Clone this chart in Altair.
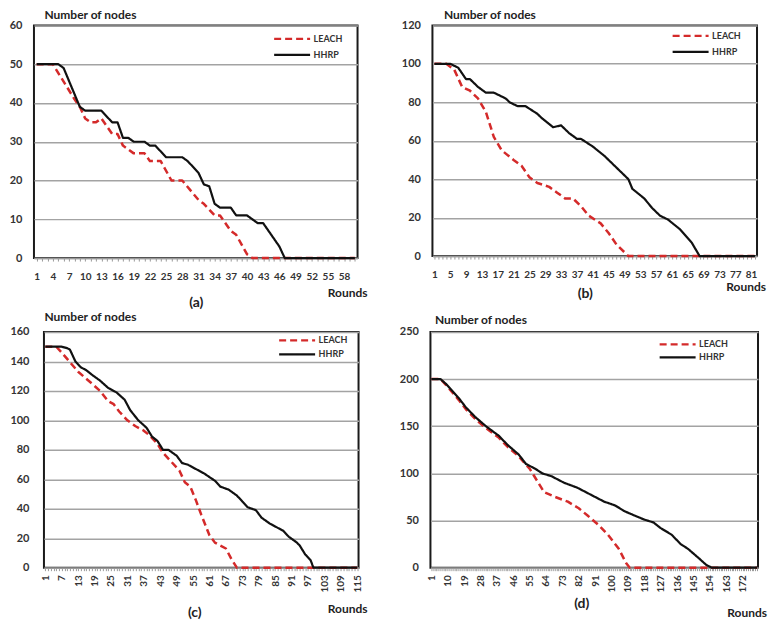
import altair as alt
import pandas as pd

FONT = "Lato"
SERIES = ["LEACH", "HHRP"]
COLORS = ["#d42a2a", "#111111"]
DASHES = [[7, 4], [1, 0]]
WIDTHS = {"LEACH": 2.5, "HHRP": 2.2}

# ---- Panel (a): 50 nodes ----
A_LEACH_R = [1, 4, 8, 9, 10, 11, 12, 13, 15, 16, 17, 18, 19, 21, 22, 24, 26, 28, 31, 32, 34, 35, 37, 38, 40, 41, 60]
A_LEACH_N = [50, 50, 41, 39, 36, 35, 35, 36, 32, 32, 29, 28, 27, 27, 25, 25, 20, 20, 15, 14, 11, 11, 7, 6, 1, 0, 0]
A_HHRP_R = [1, 5, 6, 9, 10, 13, 15, 16, 17, 18, 19, 21, 22, 23, 25, 28, 29, 31, 32, 33, 34, 35, 37, 38, 40, 42, 43, 46, 47, 60]
A_HHRP_N = [50, 50, 49, 39, 38, 38, 35, 35, 31, 31, 30, 30, 29, 29, 26, 26, 25, 22, 19, 18.5, 14, 13, 13, 11, 11, 9, 9, 3, 0, 0]
A_YTICKS = [0, 10, 20, 30, 40, 50, 60]
A_XLABELS = list(range(1, 59, 3))

# ---- Panel (b): 100 nodes ----
B_LEACH_R = [1, 4, 6, 8, 9, 10, 12, 14, 16, 18, 21, 23, 25, 27, 30, 32, 34, 36, 38, 40, 43, 45, 47, 50, 82]
B_LEACH_N = [100, 100, 97, 88, 87, 86, 82, 75, 62, 55, 50, 47, 41, 38, 36, 33, 30, 30, 26, 21, 17, 12, 6, 0, 0]
B_HHRP_R = [1, 5, 7, 9, 10, 12, 14, 16, 19, 20, 22, 24, 27, 28, 31, 33, 35, 37, 38, 41, 44, 47, 48, 50, 51, 54, 56, 58, 60, 63, 66, 68, 82]
B_HHRP_N = [100, 100, 98, 92, 92, 88, 85, 85, 82, 80, 78, 78, 74, 72, 67, 68, 64, 61, 61, 57, 52, 46, 44, 40, 35, 30, 25, 21, 19, 14, 7, 0, 0]
B_YTICKS = [0, 20, 40, 60, 80, 100, 120]
B_XLABELS = list(range(1, 82, 4))

# ---- Panel (c): 150 nodes ----
C_LEACH_R = [1, 5, 7, 13, 18, 21, 24, 26, 28, 31, 34, 37, 39, 42, 44, 47, 50, 52, 54, 56, 58, 61, 63, 67, 69, 71, 115]
C_LEACH_N = [150, 150, 146, 133, 125, 120, 113, 111, 106, 100, 96, 93, 90, 84, 78, 72, 66, 58, 55, 46, 36, 22, 17, 13, 6, 0, 0]
C_HHRP_R = [1, 7, 9, 10, 12, 14, 16, 18, 21, 24, 27, 30, 32, 35, 38, 40, 42, 44, 46, 49, 51, 53, 56, 59, 63, 65, 68, 71, 73, 75, 78, 80, 83, 85, 88, 90, 93, 94, 96, 98, 99, 115]
C_HHRP_N = [150, 150, 149, 148, 140, 136, 134, 131, 127, 122, 119, 114, 107, 100, 95, 89, 86, 80, 80, 76, 71, 70, 67, 64, 59, 55, 53, 49, 45, 41, 39, 34, 30, 28, 25, 21, 17, 15, 9, 5, 0, 0]
C_YTICKS = [0, 20, 40, 60, 80, 100, 120, 140, 160]
C_XLABELS = list(range(1, 116, 6))

# ---- Panel (d): 200 nodes ----
D_LEACH_R = [1, 6, 9, 16, 20, 25, 31, 38, 43, 49, 55, 63, 69, 76, 82, 87, 93, 98, 104, 108, 110, 180]
D_LEACH_N = [200, 200, 194, 178, 168, 158, 148, 138, 128, 118, 105, 80, 75, 70, 63, 55, 45, 35, 20, 5, 0, 0]
D_HHRP_R = [1, 6, 9, 16, 20, 25, 31, 38, 43, 49, 53, 58, 62, 67, 74, 81, 86, 91, 96, 102, 107, 113, 118, 123, 127, 133, 138, 142, 148, 152, 155, 180]
D_HHRP_N = [200, 200, 195, 180, 170, 160, 150, 140, 130, 120, 110, 105, 100, 97, 90, 85, 80, 75, 70, 66, 60, 55, 51, 48, 42, 35, 25, 20, 10, 3, 0, 0]
D_YTICKS = [0, 50, 100, 150, 200, 250]
D_XLABELS = list(range(1, 173, 9))

# legend line symbol: custom path, scaled by sqrt(size)/2
SYMBOL_PATH = "M-3,0H3"
SYMBOL_SIZE = 144  # -> 36 px long line, compact rows


def make_df(lr, ln, hr, hn):
    return pd.DataFrame({
        "round": lr + hr,
        "nodes": ln + hn,
        "series": ["LEACH"] * len(lr) + ["HHRP"] * len(hr),
    })


def panel(df, n_cat, yticks, xlabels, tag, w, h, rotate, lab_pad, title_x, title_y,
          tag_dx, tag_y, rounds_dx, rounds_dy, leg_x, leg_y, leg_gap):
    label_list = ",".join(str(v) for v in xlabels)
    x_axis = alt.Axis(
        values=list(range(1, n_cat + 1)),
        labelExpr=f"indexof([{label_list}], datum.value) >= 0 ? datum.label : ''",
        labelOverlap=False,
        labelAngle=270 if rotate else 0,
        labelAlign="right" if rotate else "center",
        labelBaseline="middle" if rotate else "top",
        labelPadding=4 if rotate else 10,
        labelFontSize=10,
        labelFont=FONT,
        labelFontWeight="bold",
        labelColor="#333333",
        tickSize=3,
        tickColor="#9a9a9a",
        domainColor="#9a9a9a",
        domainWidth=1.5,
        grid=False,
        title=tag,
        titleFont=FONT,
        titleFontSize=14,
        titleFontWeight="bold",
        titleColor="#222222",
        titleX=w / 2 + tag_dx,
        titleY=tag_y,
        titleAlign="center",
        titleBaseline="middle",
    )
    y_axis = alt.Axis(
        values=yticks,
        grid=True,
        gridColor="#a3a3a3",
        gridWidth=1.5,
        domain=False,
        ticks=False,
        minExtent=0,
        labelPadding=lab_pad,
        labelFontSize=11,
        labelFont=FONT,
        labelFontWeight="bold",
        labelColor="#333333",
        title="Number of nodes",
        titleFont=FONT,
        titleFontSize=12,
        titleFontWeight="bold",
        titleColor="#222222",
        titleAngle=0,
        titleAlign="left",
        titleBaseline="bottom",
        titleX=title_x,
        titleY=title_y,
    )
    xs = alt.Scale(domain=[0.5, n_cat + 0.5], nice=False, zero=False)
    ys = alt.Scale(domain=[0, yticks[-1]], nice=False)
    legend = alt.Legend(
        title=None,
        orient="none",
        legendX=leg_x,
        legendY=leg_y,
        symbolType=SYMBOL_PATH,
        symbolSize=SYMBOL_SIZE,
        symbolStrokeWidth=2.2,
        symbolFillColor="transparent",
        labelFont=FONT,
        labelFontSize=9,
        labelFontWeight="bold",
        labelColor="#333333",
        labelOffset=14,
        rowPadding=leg_gap,
    )
    color = alt.Color("series:N", scale=alt.Scale(domain=SERIES, range=COLORS), legend=legend)
    dash = alt.StrokeDash("series:N", scale=alt.Scale(domain=SERIES, range=DASHES), legend=legend)

    base = alt.Chart(df)
    layers = []
    for s in SERIES:
        layers.append(
            base.transform_filter(alt.datum.series == s)
            .mark_line(strokeJoin="round", strokeWidth=WIDTHS[s])
            .encode(
                x=alt.X("round:Q", scale=xs, axis=x_axis),
                y=alt.Y("nodes:Q", scale=ys, axis=y_axis),
                color=color,
                strokeDash=dash,
            )
        )
    rounds = alt.Chart(pd.DataFrame({"t": ["Rounds"]})).mark_text(
        align="right", baseline="middle", font=FONT, fontSize=12, fontWeight="bold", color="#222222"
    ).encode(x=alt.value(w + rounds_dx), y=alt.value(h + rounds_dy), text="t:N")
    layers.append(rounds)
    return alt.layer(*layers).properties(width=w, height=h)


pa = panel(make_df(A_LEACH_R, A_LEACH_N, A_HHRP_R, A_HHRP_N), 60, A_YTICKS, A_XLABELS, "(a)",
           324, 233, False, 12, 10, -4, 0, 44, 10, 35, 251, 6, 3)
pb = panel(make_df(B_LEACH_R, B_LEACH_N, B_HHRP_R, B_HHRP_N), 82, B_YTICKS, B_XLABELS, "(b)",
           325, 231, False, 12, 11, -4, -10, 37, 9, 31, 251, 3, 3)
pc = panel(make_df(C_LEACH_R, C_LEACH_N, C_HHRP_R, C_HHRP_N), 115, C_YTICKS, C_XLABELS, "(c)",
           315, 236, True, 15, 0, -8, -7, 45, 9, 41, 246, 1, 1)
pd_ = panel(make_df(D_LEACH_R, D_LEACH_N, D_HHRP_R, D_HHRP_N), 180, D_YTICKS, D_XLABELS, "(d)",
            328, 236, True, 12, 4, -5, -13, 36, 9, 45, 240, 5, 0)

# invisible spacer that pushes panel (c) a little to the right of panel (a)
spacer = alt.Chart(pd.DataFrame({"v": [0]})).mark_point(opacity=0).encode(
    x=alt.X("v:Q", axis=None), y=alt.Y("v:Q", axis=None)
).properties(width=1, height=236, view=alt.ViewBackground(strokeOpacity=0))

row1 = alt.hconcat(pa, pb, spacing=75, bounds="flush").resolve_scale(
    color="independent", strokeDash="independent")
row2_inner = alt.hconcat(pc, pd_, spacing=72, bounds="flush").resolve_scale(
    color="independent", strokeDash="independent")
row2 = alt.hconcat(spacer, row2_inner, spacing=9, bounds="flush")

chart = alt.vconcat(row1, row2, spacing=0).properties(
    padding={"left": 0, "top": -1, "right": 0, "bottom": 0},
    autosize=alt.AutoSizeParams(type="pad"),
    background="white",
).configure_view(
    stroke="#1a1a1a", strokeWidth=2
).resolve_scale(color="independent", strokeDash="independent")

chart.save("out.html", embed_options={"renderer": "svg", "actions": False})
